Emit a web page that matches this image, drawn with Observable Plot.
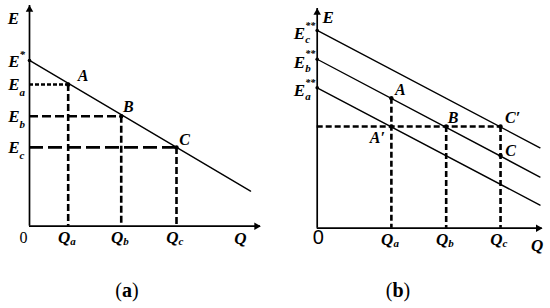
<!DOCTYPE html>
<html><head><meta charset="utf-8">
<script src="https://cdn.jsdelivr.net/npm/d3@7"></script>
<script src="https://cdn.jsdelivr.net/npm/@observablehq/plot@0.6"></script>
<style>
body{margin:0;background:#fff}
#wrap{position:relative;width:550px;height:308px;overflow:hidden;background:#fff}
#wrap svg{position:absolute;top:0}
.cap{position:absolute;top:279px;font-family:"Liberation Serif",serif;font-size:20px;color:#000;transform:translateX(-50%);white-space:nowrap}
.cap b{font-weight:bold}
</style></head><body>
<div id="wrap"></div>
<script>
// ---------- panel (a) data ----------
const aPointNames = ["A", "B", "C"];
const aQ = [1.75, 4.15, 6.65];
const aE = [6.42, 4.98, 3.57];
const aSubs = ["a", "b", "c"];
const aLineQ = [0, 10];
const aLineE = [7.51, 1.59];
const aEStar = 7.51;
const aXMax = 10.45, aYMax = 10;
// ---------- panel (b) data ----------
const bLineQ = [0, 10];
const bLineC = [9.0, 3.66];
const bLineB = [7.69, 2.33];
const bLineA = [6.39, 1.05];
const bQ = [3.33, 5.79, 8.23];
const bTop = [5.92, 4.63, 4.63];
const bLevel = 4.63;
const bPointNames = ["A", "A\u2032", "B", "C\u2032", "C"];
const bPointQ = [3.33, 3.33, 5.79, 8.23, 8.23];
const bPointE = [5.92, 4.63, 4.63, 4.63, 3.31];
const bSubs = ["a", "b", "c"];
const bXMax = 10.1, bYMax = 10;

const BI = {fontFamily: "Liberation Serif", fontWeight: "bold", fontStyle: "italic", fill: "black"};
function txt(x, y, s, o) {
  return Plot.text([{x, y, s}], {x: "x", y: "y", text: "s", ...BI, fontSize: 16, ...o});
}
function axes(xMax, yMax) {
  return [
    Plot.ruleX([0], {y1: 0, y2: yMax, strokeWidth: 1.7}),
    Plot.ruleY([0], {x1: 0, x2: xMax, strokeWidth: 1.7}),
    Plot.dot([{x: 0, y: yMax}], {x: "x", y: "y", symbol: "triangle", r: 2.8, fill: "black", stroke: "none", dy: 4}),
    Plot.dot([{x: xMax, y: 0}], {x: "x", y: "y", symbol: "triangle", r: 2.8, fill: "black", stroke: "none", rotate: 90, dx: -4})
  ];
}

// ---------- panel (a) ----------
const aPts = aPointNames.map((n, i) => ({n, q: aQ[i], e: aE[i]}));
const aDash = ["4,2", "9,4", "14,5"];
const aMarks = [...axes(aXMax, aYMax)];
aPts.forEach((p, i) => {
  aMarks.push(Plot.ruleY([p], {y: "e", x1: 0, x2: "q", strokeWidth: 2.6, strokeDasharray: aDash[i]}));
  aMarks.push(Plot.ruleX([p], {x: "q", y1: "e", y2: 0, strokeWidth: 2.6, strokeDasharray: "7,3"}));
});
aMarks.push(Plot.line(aLineQ.map((q, i) => ({q, e: aLineE[i]})), {x: "q", y: "e", strokeWidth: 1.4}));
aMarks.push(Plot.dot(aPts, {x: "q", y: "e", r: 2.2, fill: "black", stroke: "none"}));
aMarks.push(Plot.dot([{q: 0, e: aEStar}], {x: "q", y: "e", r: 1.8, fill: "black", stroke: "none"}));
// labels
aMarks.push(txt(0, aYMax, "E", {dx: -16, dy: 13, fontSize: 17}));
aMarks.push(txt(0, aEStar, "E", {textAnchor: "end", dx: -10, dy: 1, fontSize: 17}));
aMarks.push(txt(0, aEStar, "*", {textAnchor: "start", dx: -10, dy: -6, fontSize: 11}));
aPts.forEach((p, i) => {
  aMarks.push(txt(0, p.e, "E", {textAnchor: "end", dx: -10, dy: 0, fontSize: 17}));
  aMarks.push(txt(0, p.e, aSubs[i], {textAnchor: "start", dx: -10, dy: 8, fontSize: 11}));
  aMarks.push(txt(p.q, 0, "Q", {textAnchor: "end", dx: 2, dy: 11, fontSize: 17}));
  aMarks.push(txt(p.q, 0, aSubs[i], {textAnchor: "start", dx: 2, dy: 15, fontSize: 11}));
});
aMarks.push(txt(aQ[0], aE[0], "A", {dx: 15, dy: -9}));
aMarks.push(txt(aQ[1], aE[1], "B", {dx: 7, dy: -9}));
aMarks.push(txt(aQ[2], aE[2], "C", {dx: 8, dy: -8}));
aMarks.push(txt(aXMax, 0, "Q", {dx: -20, dy: 12, fontSize: 17}));
aMarks.push(Plot.text([{q: 0, e: 0}], {x: "q", y: "e", text: () => "0", fontFamily: "Liberation Serif", fontSize: 16, dx: -6, dy: 12}));

const plotA = Plot.plot({
  width: 275, height: 308,
  marginLeft: 29, marginRight: 15, marginTop: 5, marginBottom: 82.3,
  x: {domain: [0, aXMax], axis: null},
  y: {domain: [0, aYMax], axis: null},
  marks: aMarks
});

// ---------- panel (b) ----------
const bMarks = [...axes(bXMax, bYMax)];
bMarks.push(Plot.ruleY([bLevel], {y: d => d, x1: 0, x2: bQ[2], strokeWidth: 2.6, strokeDasharray: "6,3"}));
bQ.forEach((q, i) => {
  bMarks.push(Plot.ruleX([{q, e: bTop[i]}], {x: "q", y1: "e", y2: 0, strokeWidth: 2.6, strokeDasharray: "6,3"}));
});
const bLines = [bLineC, bLineB, bLineA];
bLines.forEach(L => {
  bMarks.push(Plot.line(bLineQ.map((q, i) => ({q, e: L[i]})), {x: "q", y: "e", strokeWidth: 1.4}));
});
bMarks.push(Plot.dot(bLines.map(L => ({q: 0, e: L[0]})), {x: "q", y: "e", r: 1.8, fill: "black", stroke: "none"}));
const bPts = bPointNames.map((n, i) => ({n, q: bPointQ[i], e: bPointE[i]}));
bMarks.push(Plot.dot(bPts, {x: "q", y: "e", r: 2.2, fill: "black", stroke: "none"}));
// labels
bMarks.push(txt(0, bYMax, "E", {dx: 11, dy: 9, fontSize: 17}));
const bESubs = ["c", "b", "a"];
bLines.forEach((L, i) => {
  bMarks.push(txt(0, L[0], "E", {textAnchor: "end", dx: -12, dy: 3, fontSize: 17}));
  bMarks.push(txt(0, L[0], "**", {textAnchor: "start", dx: -12, dy: -5, fontSize: 10}));
  bMarks.push(txt(0, L[0], bESubs[i], {textAnchor: "start", dx: -12, dy: 9, fontSize: 11}));
});
bQ.forEach((q, i) => {
  bMarks.push(txt(q, 0, "Q", {textAnchor: "end", dx: 2, dy: 11, fontSize: 17}));
  bMarks.push(txt(q, 0, bSubs[i], {textAnchor: "start", dx: 2, dy: 15, fontSize: 11}));
});
const bLabelOff = [[9, -8], [-14, 11], [7, -9], [12, -9], [10, -5]];
bPts.forEach((p, i) => {
  bMarks.push(txt(p.q, p.e, p.n, {dx: bLabelOff[i][0], dy: bLabelOff[i][1]}));
});
bMarks.push(txt(bXMax, 0, "Q", {dx: -5, dy: 17, fontSize: 17}));
bMarks.push(Plot.text([{q: 0, e: 0}], {x: "q", y: "e", text: () => "0", fontFamily: "Liberation Sans", fontSize: 20, dx: 1, dy: 9}));

const plotB = Plot.plot({
  width: 275, height: 308,
  marginLeft: 41.7, marginRight: 8.3, marginTop: 8, marginBottom: 80.3,
  x: {domain: [0, bXMax], axis: null},
  y: {domain: [0, bYMax], axis: null},
  marks: bMarks
});

const wrap = document.getElementById("wrap");
plotA.style.left = "0px";
plotB.style.left = "275px";
wrap.appendChild(plotA);
wrap.appendChild(plotB);
const caps = [["a", 127], ["b", 398]];
caps.forEach(([c, x]) => {
  const d = document.createElement("div");
  d.className = "cap";
  d.style.left = x + "px";
  d.innerHTML = "(<b>" + c + "</b>)";
  wrap.appendChild(d);
});
</script>
</body></html>
